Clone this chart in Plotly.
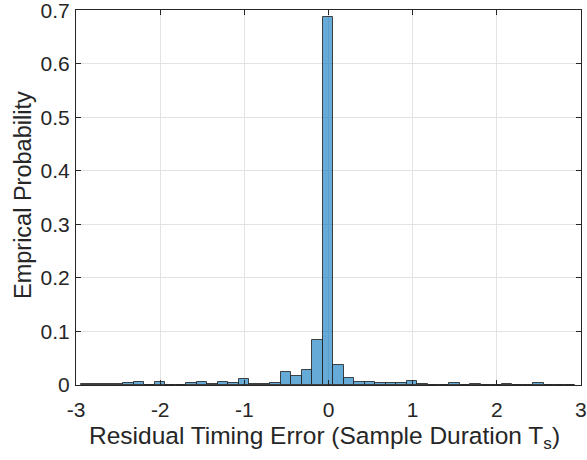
import plotly.graph_objects as go

# Histogram bin centers (bin width 0.125) and empirical probabilities
bin_centers = [-2.88, -2.755, -2.63, -2.505, -2.38, -2.255, -2.13, -2.005, -1.88, -1.755,
               -1.63, -1.505, -1.38, -1.255, -1.13, -1.005, -0.88, -0.755, -0.63, -0.505,
               -0.38, -0.255, -0.13, -0.005, 0.12, 0.245, 0.37, 0.495, 0.62, 0.745,
               0.87, 0.995, 1.12, 1.245, 1.37, 1.495, 1.62, 1.745, 1.87, 1.995,
               2.12, 2.245, 2.37, 2.495, 2.62, 2.745, 2.87]
probabilities = [0.001, 0.001, 0.001, 0.001, 0.003, 0.0056, 0.0, 0.0056, 0.0, 0.0,
                 0.003, 0.0056, 0.001, 0.0056, 0.003, 0.011, 0.001, 0.002, 0.003, 0.0236,
                 0.017, 0.028, 0.084, 0.688, 0.037, 0.013, 0.0056, 0.0056, 0.003, 0.003,
                 0.003, 0.008, 0.001, 0.0, 0.0, 0.003, 0.0, 0.001, 0.0, 0.0,
                 0.001, 0.0, 0.0, 0.004, 0.0005, 0.0005, 0.0005]
bin_width = 0.125

x_ticks = [-3, -2, -1, 0, 1, 2, 3]
y_ticks = [0, 0.1, 0.2, 0.3, 0.4, 0.5, 0.6, 0.7]
y_tick_labels = ["0", "0.1", "0.2", "0.3", "0.4", "0.5", "0.6", "0.7"]
x_title = "Residual Timing Error (Sample Duration T<sub>s</sub>)"
y_title = "Emprical Probability"

fig = go.Figure()
fig.add_trace(go.Bar(
    x=bin_centers, y=probabilities, width=bin_width,
    marker=dict(color="rgba(0,114,189,0.6)",
                line=dict(color="rgba(38,38,38,0.85)", width=1)),
    showlegend=False,
))

font_family = "Liberation Sans, Arial, sans-serif"
axis_color = "#262626"
fig.update_layout(
    width=587, height=460,
    margin=dict(l=75.5, r=6.4, t=10, b=75),
    paper_bgcolor="white", plot_bgcolor="white",
    font=dict(family=font_family, color=axis_color, size=21),
    bargap=0,
)
fig.update_xaxes(
    range=[-3.001, 3.001], tickvals=x_ticks, ticktext=[str(v) for v in x_ticks],
    showgrid=True, gridcolor="#e3e3e3", gridwidth=1,
    showline=True, linecolor=axis_color, linewidth=1, mirror="allticks",
    ticks="inside", ticklen=5, tickcolor=axis_color,
    zeroline=False, tickfont=dict(size=21, color=axis_color),
    ticklabeloverflow="allow", automargin=False, ticklabelstandoff=6,
)
fig.update_yaxes(
    range=[0, 0.7003], tickvals=y_ticks, ticktext=y_tick_labels,
    showgrid=True, gridcolor="#e3e3e3", gridwidth=1,
    showline=True, linecolor=axis_color, linewidth=1, mirror="allticks",
    ticks="inside", ticklen=5, tickcolor=axis_color,
    zeroline=False, tickfont=dict(size=21, color=axis_color),
    ticklabeloverflow="allow", automargin=False, ticklabelstandoff=1,
)
fig.add_annotation(
    text=x_title, xref="paper", yref="paper", x=0.5, y=0,
    xanchor="center", yanchor="middle", xshift=-4, yshift=-52,
    showarrow=False, font=dict(size=24.5, color=axis_color),
)
fig.add_annotation(
    text=y_title, xref="paper", yref="paper", x=0, y=0.5,
    xanchor="center", yanchor="middle", xshift=-53.5, yshift=2,
    textangle=-90, showarrow=False, font=dict(size=23.5, color=axis_color),
)

# remove the browser's default 8px body margin so the figure fills the window
fig.write_html("out.html", config={"displayModeBar": False},
               post_script="document.body.style.margin='0';")
